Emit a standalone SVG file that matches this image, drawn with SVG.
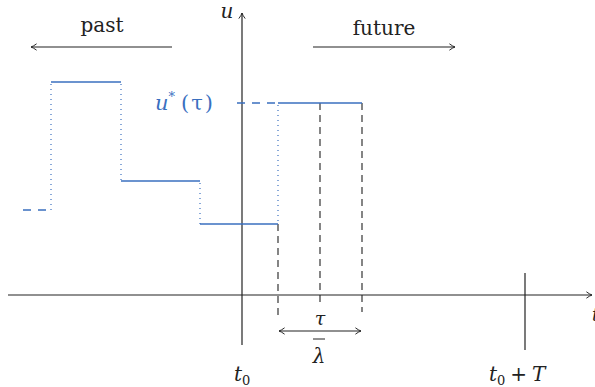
<svg xmlns="http://www.w3.org/2000/svg" width="595" height="387" viewBox="0 0 595 387">
<style>
.ax{stroke:#222;stroke-width:1.2;fill:none}
.blue{stroke:#3a6fbf;stroke-width:1.3;fill:none}
.bdot{stroke:#3a6fbf;stroke-width:1.2;fill:none;stroke-dasharray:1 4}
.bdash{stroke:#3a6fbf;stroke-width:1.3;fill:none;stroke-dasharray:8 7}
.kdash{stroke:#222;stroke-width:1.1;fill:none;stroke-dasharray:7 5}
.t{font-family:"DejaVu Serif","Liberation Serif",serif;fill:#222}
.m{font-family:"DejaVu Serif","Liberation Serif",serif;font-style:italic;fill:#222}
</style>
<defs>
<marker id="ah" viewBox="0 0 10 10" refX="9" refY="5" markerWidth="8" markerHeight="8" markerUnits="userSpaceOnUse" orient="auto-start-reverse">
<path d="M2,1 Q6,4 9,5 Q6,6 2,9" fill="none" stroke="#222" stroke-width="1.2"/>
</marker>
</defs>
<g id="connectors">
<line class="ax" x1="8" y1="295" x2="592" y2="295" marker-end="url(#ah)"/>
<line class="ax" x1="242" y1="345" x2="242" y2="13" marker-end="url(#ah)"/>
<line class="ax" x1="525" y1="273" x2="525" y2="350"/>
<line class="ax" x1="172" y1="47" x2="31" y2="47" marker-end="url(#ah)"/>
<line class="ax" x1="313" y1="47" x2="455" y2="47" marker-end="url(#ah)"/>
<line class="ax" x1="279" y1="331" x2="361" y2="331" marker-start="url(#ah)" marker-end="url(#ah)"/>
<line class="kdash" x1="278" y1="224" x2="278" y2="316"/>
<line class="kdash" x1="320" y1="103" x2="320" y2="304"/>
<line class="kdash" x1="362" y1="103" x2="362" y2="312"/>
</g>
<g id="control">
<line class="bdash" x1="23" y1="210" x2="50" y2="210"/>
<line class="bdot" x1="51" y1="84" x2="51" y2="210"/>
<line class="blue" x1="51" y1="82" x2="121" y2="82"/>
<line class="bdot" x1="121" y1="84" x2="121" y2="181"/>
<line class="blue" x1="121" y1="181" x2="200" y2="181"/>
<line class="bdot" x1="200" y1="183" x2="200" y2="224"/>
<line class="blue" x1="200" y1="224" x2="278" y2="224"/>
<line class="bdot" x1="278" y1="105" x2="278" y2="224"/>
<line class="blue" x1="278" y1="103" x2="362" y2="103"/>
<line class="bdash" x1="237" y1="103" x2="278" y2="103"/>
</g>
<g id="labels">
<text class="t" x="102" y="32" font-size="20" text-anchor="middle">past</text>
<text class="t" x="384" y="35" font-size="20" text-anchor="middle">future</text>
<text class="m" x="227" y="18" font-size="20" text-anchor="middle">u</text>
<text x="155" y="110" font-size="21" fill="#3a6fbf" font-family="DejaVu Serif, Liberation Serif, serif"><tspan font-style="italic">u</tspan><tspan font-size="13" dy="-9">*</tspan><tspan dy="9" dx="6" letter-spacing="2">(τ)</tspan></text>
<text class="m" x="320" y="325" font-size="19" text-anchor="middle">τ</text>
<line x1="313" y1="339" x2="325" y2="339" stroke="#222" stroke-width="1"/>
<text class="m" x="319" y="363" font-size="20" text-anchor="middle">λ</text>
<text class="m" x="234" y="381" font-size="20">t<tspan font-style="normal" font-size="13" dy="4">0</tspan></text>
<text class="m" x="489" y="381" font-size="20">t<tspan font-style="normal" font-size="13" dy="4">0</tspan><tspan font-style="normal" dy="-4" dx="5">+</tspan><tspan dx="5">T</tspan></text>
<text class="m" x="592" y="321" font-size="18">t</text>
</g>
</svg>
